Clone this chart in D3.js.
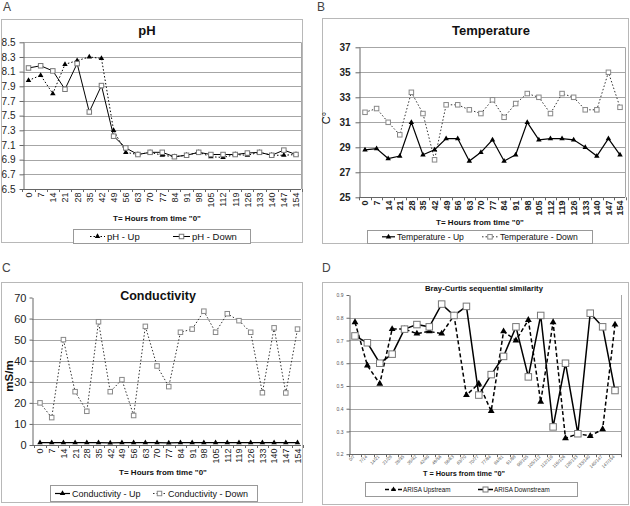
<!DOCTYPE html>
<html><head><meta charset="utf-8">
<script src="https://cdn.jsdelivr.net/npm/d3@7"></script>
<style>body{margin:0;background:#fff}svg{display:block}text{font-family:"Liberation Sans",Arial,sans-serif}</style>
</head><body>
<svg id="c" width="630" height="506"></svg>
<script>
const hours = ["0","7","14","21","28","35","42","49","56","63","70","77","84","91","98","105","112","119","126","133","140","147","154"];
const pairs = ["0/7","7/14","14/21","21/28","28/35","35/42","42/49","49/56","56/63","63/70","70/77","77/84","84/91","91/98","98/105","105/112","112/119","119/126","126/133","133/140","140/147","147/154"];

const phUp   = [7.98,8.05,7.80,8.20,8.25,8.30,8.28,7.30,7.00,6.97,7.00,6.96,6.94,6.96,7.00,6.94,6.93,6.97,6.96,7.00,6.96,6.96,6.97];
const phDown = [8.15,8.18,8.11,7.86,8.21,7.55,7.91,7.22,7.06,6.97,7.00,7.00,6.94,6.96,7.00,6.97,6.97,6.97,6.99,7.00,6.96,7.03,6.97];
const phTicks = [6.5,6.7,6.9,7.1,7.3,7.5,7.7,7.9,8.1,8.3,8.5];

const tempUp   = [28.8,28.9,28.1,28.3,31.0,28.4,28.8,29.7,29.7,27.9,28.6,29.6,27.9,28.4,31.0,29.6,29.7,29.7,29.6,29.0,28.3,29.7,28.4];
const tempDown = [31.8,32.1,31.0,30.0,33.4,31.7,28.0,32.4,32.4,32.0,31.7,32.8,31.4,32.5,33.3,33.0,31.7,33.3,33.0,32.0,32.0,35.0,32.2];
const tempTicks = [25,27,29,31,33,35,37];

const condUp   = [1.1,1.1,1.1,1.1,1.1,1.1,1.0,1.1,1.1,1.1,1.1,1.0,1.1,1.1,1.1,1.1,1.1,1.1,1.1,1.1,1.1,1.1,1.1];
const condDown = [20,13,50,25.3,16,58.5,25.3,31,14,56.3,37.5,27.7,53.5,55,63.5,53.5,62.3,59,53.5,24.8,55.6,24.7,55];
const condTicks = [0,10,20,30,40,50,60,70];

const bcUp   = [0.78,0.59,0.51,0.75,0.75,0.73,0.74,0.73,0.81,0.46,0.51,0.39,0.74,0.70,0.79,0.43,0.78,0.27,0.29,0.28,0.31,0.77];
const bcDown = [0.72,0.69,0.60,0.64,0.75,0.77,0.76,0.86,0.81,0.85,0.46,0.55,0.63,0.76,0.54,0.81,0.32,0.60,0.29,0.82,0.76,0.48];
const bcTicks = [0.2,0.3,0.4,0.5,0.6,0.7,0.8,0.9];

const svg = d3.select("#c");

function marker(g, type, cx, cy, sz, stroke, fill) {
  if (type === "tri") {
    g.append("path").attr("d", d3.symbol().type(d3.symbolTriangle).size(sz)())
      .attr("transform", `translate(${cx},${cy})`).attr("fill", "#000");
  } else {
    g.append("rect").attr("x", cx - sz/2).attr("y", cy - sz/2).attr("width", sz).attr("height", sz)
      .attr("fill", "#fff").attr("stroke", stroke).attr("stroke-width", 1);
  }
}

function panel(o) {
  const g = svg.append("g");
  g.append("rect").attr("x", o.box[0]+0.5).attr("y", o.box[1]+0.5).attr("width", o.box[2]).attr("height", o.box[3])
    .attr("fill", "none").attr("stroke", "#b8b8b8");
  g.append("text").text(o.letter).attr("x", o.letterPos[0]).attr("y", o.letterPos[1])
    .attr("font-size", 12).attr("fill", "#444");
  const x = d3.scalePoint().domain(o.cats).range(o.xr);
  const y = d3.scaleLinear().domain(o.ydom).range([o.pb, o.pt]);
  const step = x.step();
  const pl = o.pl, pr = o.pr;
  // gridlines
  g.selectAll(null).data(o.grid).join("line")
    .attr("x1", pl).attr("x2", pr).attr("y1", d => Math.round(y(d))+0.5).attr("y2", d => Math.round(y(d))+0.5)
    .attr("stroke", "#a6a6a6").attr("stroke-width", 1);
  if (o.rightBorder) g.append("line").attr("x1", pr+0.5).attr("x2", pr+0.5).attr("y1", y(o.rbTop)).attr("y2", o.pb)
    .attr("stroke", "#a6a6a6");
  // y axis
  const ya = g.append("g").attr("transform", `translate(${pl+0.5},0)`)
    .call(d3.axisLeft(y).tickValues(o.yticks).tickFormat(o.yfmt).tickSize(o.ytickSize).tickPadding(o.ypad).tickSizeOuter(0));
  ya.select(".domain").attr("stroke", "#666");
  ya.selectAll(".tick line").attr("stroke", "#666");
  ya.selectAll("text").attr("font-size", o.yfs).attr("font-weight", o.yfw).attr("fill", o.yfill)
    .attr("font-family", '"Liberation Sans",Arial,sans-serif');
  // x axis
  const xa = g.append("g").attr("transform", `translate(0,${Math.round(o.pb)+0.5})`)
    .call(d3.axisBottom(x).tickSize(0).tickSizeOuter(0));
  xa.select(".domain").remove();
  g.append("line").attr("x1", pl).attr("x2", pr).attr("y1", Math.round(o.pb)+0.5).attr("y2", Math.round(o.pb)+0.5).attr("stroke", "#666");
  xa.selectAll("text").attr("transform", `rotate(${o.xrot})`).attr("text-anchor", "end")
    .attr("x", -o.xpad).attr("y", 0).attr("dy", "0.32em")
    .attr("font-size", o.xfs).attr("font-weight", o.xfw).attr("fill", o.xfill)
    .attr("font-family", '"Liberation Sans",Arial,sans-serif');
  // between-category ticks
  const bounds = o.cats.map((c, i) => x(c) - step/2).concat([x(o.cats[o.cats.length-1]) + step/2]);
  g.selectAll(null).data(bounds).join("line")
    .attr("x1", d => Math.round(d)+0.5).attr("x2", d => Math.round(d)+0.5)
    .attr("y1", o.pb).attr("y2", o.pb + 3).attr("stroke", "#666");
  // title
  g.append("text").text(o.title).attr("x", o.titlePos[0]).attr("y", o.titlePos[1])
    .attr("text-anchor", "middle").attr("font-size", o.titleFs).attr("font-weight", "bold").attr("fill", "#111");
  // x title
  g.append("text").text(o.xtitle).attr("x", o.xtitlePos[0]).attr("y", o.xtitlePos[1])
    .attr("text-anchor", "middle").attr("font-size", o.xtitleFs).attr("font-weight", "bold").attr("fill", "#111");
  if (o.ytitle) {
    g.append("text").text(o.ytitle).attr("transform", `translate(${o.ytitlePos[0]},${o.ytitlePos[1]}) rotate(-90)`)
      .attr("text-anchor", "middle").attr("font-size", o.ytitleFs).attr("font-weight", o.ytitleFw).attr("fill", "#111");
  }
  // series
  o.series.forEach(s => {
    const pts = o.cats.map((c, i) => [x(c), y(s.values[i])]);
    g.append("path").attr("d", d3.line()(pts)).attr("fill", "none")
      .attr("stroke", s.lineColor).attr("stroke-width", s.lw).attr("stroke-dasharray", s.dash);
  });
  o.series.forEach(s => {
    o.cats.forEach((c, i) => marker(g, s.marker, x(c), y(s.values[i]), s.msz, s.mstroke));
  });
  // legend
  const L = o.legend;
  g.append("rect").attr("x", L.box[0]+0.5).attr("y", L.box[1]+0.5).attr("width", L.box[2]).attr("height", L.box[3])
    .attr("fill", "#fff").attr("stroke", "#999");
  L.items.forEach((it, k) => {
    const s = o.series[k];
    g.append("line").attr("x1", it.x0).attr("x2", it.x1).attr("y1", L.cy).attr("y2", L.cy)
      .attr("stroke", s.lineColor).attr("stroke-width", s.lw).attr("stroke-dasharray", s.dash);
    marker(g, s.marker, (it.x0+it.x1)/2, L.cy, s.lmsz || s.msz, s.mstroke);
    g.append("text").text(it.label).attr("x", it.tx).attr("y", L.cy).attr("dy", "0.35em")
      .attr("font-size", L.fs).attr("fill", "#111");
  });
}

// A: pH
panel({
  box: [1, 19, 301, 223], letter: "A", letterPos: [3, 11],
  cats: hours, xr: [28.5, 296], pl: 23, pr: 301, pt: 42.3, pb: 189,
  ydom: [6.5, 8.5], yticks: phTicks, grid: phTicks.slice(1), yfmt: d3.format(".1f"),
  ytickSize: 4, ypad: 4, yfs: 10, yfw: "normal", yfill: "#222",
  rightBorder: true, rbTop: 8.5,
  xrot: -90, xpad: 3, xfs: 9, xfw: "normal", xfill: "#222",
  title: "pH", titlePos: [147, 35], titleFs: 13,
  xtitle: 'T= Hours from time "0"', xtitlePos: [157, 221], xtitleFs: 8,
  series: [
    {values: phUp, marker: "tri", msz: 13, lineColor: "#000", lw: 1, dash: "1.5,2"},
    {values: phDown, marker: "sq", msz: 4.5, mstroke: "#777", lineColor: "#000", lw: 1, dash: null}
  ],
  legend: {box: [73, 229, 177, 14], cy: 236.5, fs: 9.5, items: [
    {x0: 90, x1: 105, tx: 107, label: "pH - Up"},
    {x0: 173, x1: 190, tx: 192, label: "pH - Down"}]}
});

// B: Temperature
panel({
  box: [322, 18, 306, 225], letter: "B", letterPos: [317, 11],
  cats: hours, xr: [365, 620], pl: 359, pr: 625, pt: 47.3, pb: 197.3,
  ydom: [25, 37], yticks: tempTicks, grid: tempTicks.slice(1), yfmt: d3.format("d"),
  ytickSize: 4, ypad: 5, yfs: 10, yfw: "bold", yfill: "#222",
  rightBorder: true, rbTop: 37,
  xrot: -90, xpad: 3, xfs: 9, xfw: "bold", xfill: "#222",
  title: "Temperature", titlePos: [491, 35], titleFs: 13,
  xtitle: 'T= Hours from time "0"', xtitlePos: [480, 225], xtitleFs: 8,
  ytitle: "C°", ytitlePos: [330, 118], ytitleFs: 11, ytitleFw: "normal",
  series: [
    {values: tempUp, marker: "tri", msz: 13, lineColor: "#000", lw: 1.2, dash: null},
    {values: tempDown, marker: "sq", msz: 4.5, mstroke: "#888", lineColor: "#333", lw: 1, dash: "1.5,2"}
  ],
  legend: {box: [367, 230, 225, 13], cy: 236.8, fs: 8.6, items: [
    {x0: 382, x1: 395, tx: 397, label: "Temperature - Up"},
    {x0: 482, x1: 498, tx: 500, label: "Temperature - Down"}]}
});

// C: Conductivity
panel({
  box: [1, 282, 301, 220], letter: "C", letterPos: [2, 272],
  cats: hours, xr: [40, 297.5], pl: 32, pr: 301, pt: 297.5, pb: 445,
  ydom: [0, 70], yticks: condTicks, grid: [10,20,30,40,50,60], yfmt: d3.format("d"),
  ytickSize: 3, ypad: 3, yfs: 11, yfw: "normal", yfill: "#222",
  rightBorder: false,
  xrot: -90, xpad: 3, xfs: 9, xfw: "normal", xfill: "#222",
  title: "Conductivity", titlePos: [158, 300], titleFs: 12.5,
  xtitle: 'T= Hours from time "0"', xtitlePos: [163, 475], xtitleFs: 8,
  ytitle: "mS/m", ytitlePos: [13, 376], ytitleFs: 11.5, ytitleFw: "bold",
  series: [
    {values: condUp, marker: "tri", msz: 13, lineColor: "#000", lw: 1.2, dash: null},
    {values: condDown, marker: "sq", msz: 4.5, mstroke: "#888", lineColor: "#333", lw: 1, dash: "1.5,2"}
  ],
  legend: {box: [50, 485, 207, 16], cy: 493.5, fs: 9, items: [
    {x0: 55, x1: 70, tx: 72, label: "Conductivity - Up"},
    {x0: 153, x1: 166, tx: 168, label: "Conductivity - Down"}]}
});

// D: Bray-Curtis
panel({
  box: [322, 282, 306, 222], letter: "D", letterPos: [322, 272],
  cats: pairs, xr: [355, 615], pl: 349, pr: 621, pt: 295, pb: 454.2,
  ydom: [0.2, 0.9], yticks: bcTicks, grid: [0.3,0.4,0.5,0.6,0.7,0.8], yfmt: d3.format(".1f"),
  ytickSize: 3, ypad: 3, yfs: 5, yfw: "normal", yfill: "#555",
  rightBorder: true, rbTop: 0.9,
  xrot: -45, xpad: 2, xfs: 4.5, xfw: "normal", xfill: "#555",
  title: "Bray-Curtis sequential similarity", titlePos: [484, 291], titleFs: 7.7,
  xtitle: 'T = Hours from time "0"', xtitlePos: [464, 476], xtitleFs: 7.3,
  series: [
    {values: bcUp, marker: "tri", msz: 20, lmsz: 12, lineColor: "#000", lw: 1.5, dash: "4,2.5"},
    {values: bcDown, marker: "sq", msz: 6.5, lmsz: 5, mstroke: "#777", lineColor: "#000", lw: 1.5, dash: null}
  ],
  legend: {box: [365, 482, 212, 14], cy: 489.5, fs: 6.3, items: [
    {x0: 385, x1: 402, tx: 403, label: "ARISA Upstream"},
    {x0: 478, x1: 493, tx: 494, label: "ARISA Downstream"}]}
});
</script>
</body></html>
